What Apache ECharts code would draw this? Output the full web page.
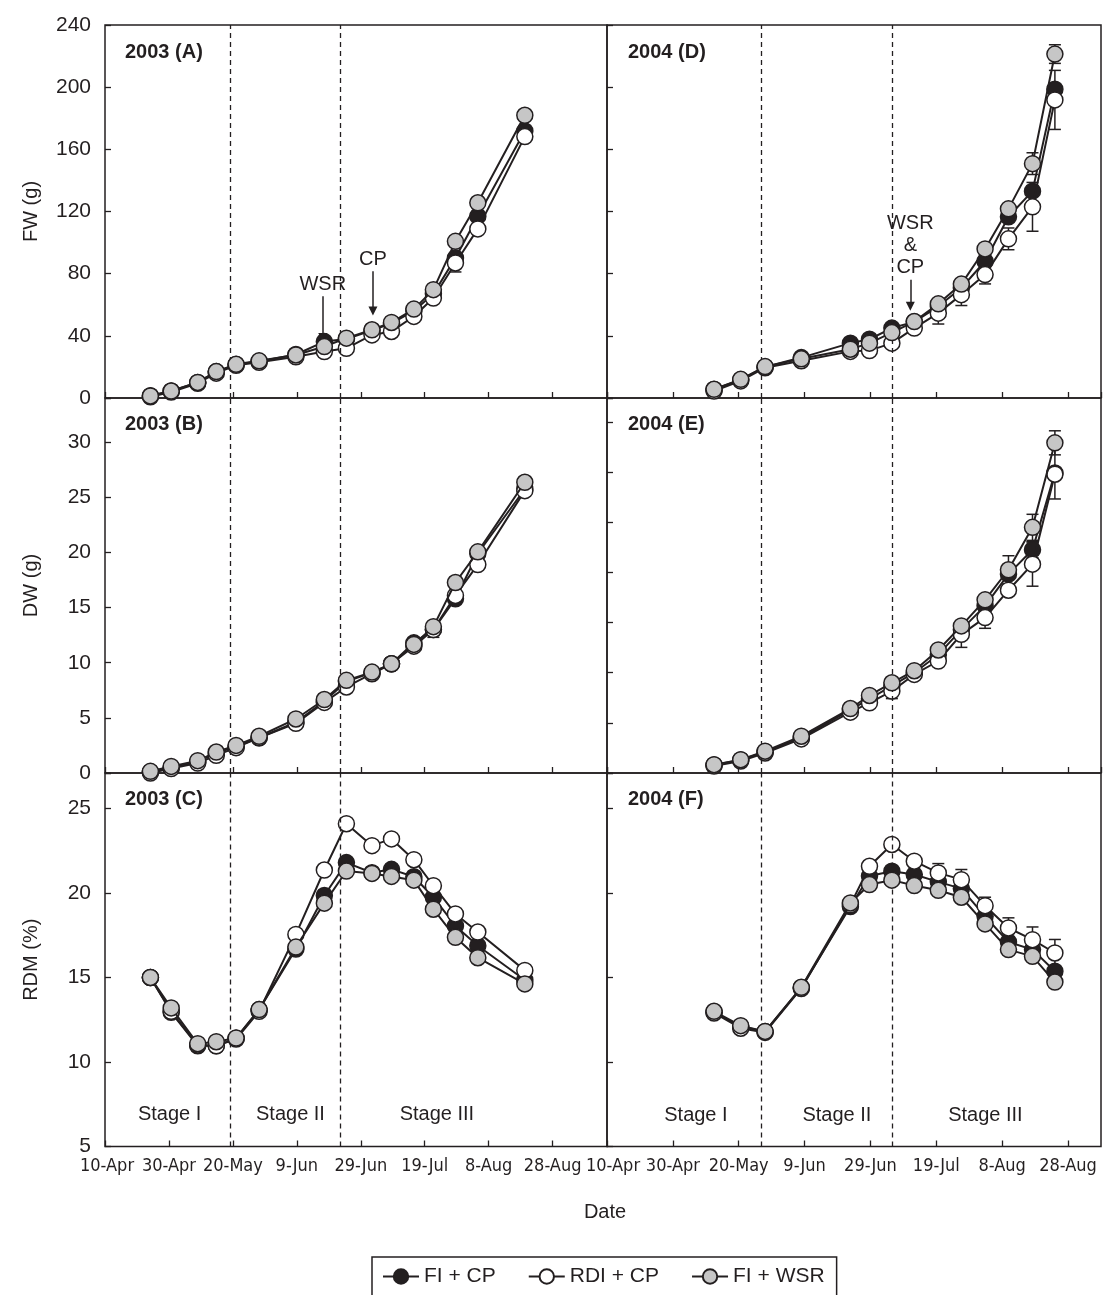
<!DOCTYPE html>
<html>
<head>
<meta charset="utf-8">
<script src="https://cdn.jsdelivr.net/npm/echarts@6/dist/echarts.min.js"></script>
<style>
html,body{margin:0;padding:0;background:#fff}
#F{width:1103px;height:1295px}
</style>
</head>
<body>
<div id="F"></div>
<script>
// x values are days counted from 10-Apr
var days03 = [14.2, 20.7, 29, 34.8, 41, 48.2, 59.7, 68.6, 75.5, 83.5, 89.6, 96.6, 102.7, 109.6, 116.6, 131.3];
var days04 = [32.5, 40.6, 48, 59, 73.9, 79.7, 86.5, 93.3, 100.6, 107.6, 114.8, 121.9, 129.2, 136];
var xTickLabels = ['10-Apr', '30-Apr', '20-May', '9-Jun', '29-Jun', '19-Jul', '8-Aug', '28-Aug'];
var treatments = ['FI + CP', 'RDI + CP', 'FI + WSR'];
var stages03 = [39.3, 73.5];
var stages04 = [46.8, 86.6];
var stageNames = ['Stage I', 'Stage II', 'Stage III'];

// 2003 fresh weight (g)
var fw03Black = [1.5, 4.5, 10, 17, 21.5, 23.5, 28, 36.3, 38, 43.5, 48, 56, 67, 90.1, 117, 171.8];
var fw03White = [0.8, 3.8, 9.5, 16, 21, 23, 26.5, 29.9, 32, 40.6, 42.8, 52.5, 64.3, 86.9, 108.8, 168.2];
var fw03Grey  = [1.3, 4.5, 10, 17, 21.7, 23.9, 27.7, 33.1, 38.5, 43.9, 48.6, 57.2, 69.7, 100.8, 125.6, 181.9];
// 2003 dry weight (g)
var dw03Black = [0.1, 0.5, 1.0, 1.8, 2.4, 3.2, 4.6, 6.5, 8.3, 9.1, 9.9, 11.8, 13.0, 15.8, 19.9, 25.75];
var dw03White = [0.0, 0.4, 0.9, 1.6, 2.3, 3.2, 4.5, 6.4, 7.8, 9.0, 9.9, 11.5, 13.0, 16.1, 18.9, 25.6];
var dw03Grey  = [0.15, 0.6, 1.12, 1.9, 2.5, 3.33, 4.9, 6.66, 8.4, 9.15, 9.9, 11.66, 13.27, 17.27, 20.05, 26.36];
// 2003 relative dry matter (%)
var rdm03Black = [15.0, 12.94, 10.96, 10.96, 11.4, 13.1, 16.68, 19.85, 21.8, 21.2, 21.4, 20.96, 19.75, 18.05, 16.88, 14.85];
var rdm03White = [15.0, 13.0, 11.0, 10.96, 11.36, 13.0, 17.55, 21.36, 24.1, 22.8, 23.2, 21.97, 20.43, 18.76, 17.69, 15.42];
var rdm03Grey  = [15.0, 13.2, 11.08, 11.2, 11.42, 13.1, 16.8, 19.4, 21.3, 21.16, 20.98, 20.76, 19.04, 17.38, 16.17, 14.62];

// 2004 fresh weight (g)
var fw04Black = [5.5, 11.8, 20, 26, 35.3, 37.8, 45, 49, 59, 70.8, 88, 116.6, 133.1, 198.7];
var fw04White = [4.5, 11, 19.5, 24, 30, 30.5, 35.3, 45, 54.6, 66.5, 79.4, 102.4, 123, 191.8];
var fw04Grey  = [5.6, 12, 20.2, 25.2, 31.4, 35.3, 42.1, 49.2, 60.6, 73.3, 95.9, 121.7, 150.8, 221.3];
// 2004 dry weight (g)
var dw04Black = [0.8, 1.3, 2.1, 3.5, 6.3, 7.4, 8.7, 10.0, 11.8, 14.3, 16.67, 19.83, 22.27, 29.93];
var dw04White = [0.7, 1.2, 2.0, 3.4, 6.07, 7.0, 8.17, 9.83, 11.17, 13.83, 15.5, 18.23, 20.83, 29.8];
var dw04Grey  = [0.83, 1.33, 2.17, 3.67, 6.43, 7.73, 9.0, 10.2, 12.27, 14.67, 17.27, 20.27, 24.5, 32.93];
// 2004 relative dry matter (%)
var rdm04Black = [12.95, 12.1, 11.8, 14.4, 19.2, 21.0, 21.29, 21.09, 20.66, 20.26, 18.62, 17.1, 16.65, 15.37];
var rdm04White = [12.9, 12.0, 11.75, 14.35, 19.3, 21.58, 22.87, 21.88, 21.19, 20.79, 19.25, 17.93, 17.24, 16.45];
var rdm04Grey  = [13.0, 12.15, 11.81, 14.42, 19.41, 20.5, 20.76, 20.44, 20.16, 19.75, 18.17, 16.65, 16.25, 14.73];

// error bars (0 = none drawn)
var fw03BlackErr = [0,0,0,0,0,0,0,0,0,0,0,0,0,0,0,3];
var fw03WhiteErr = [0,0,0,0,0,0,0,0,0,0,0,0,0,5.8,0,0];
var dw03BlackErr = [0,0,0,0,0,0,0,0,0,0,0,0,0.7,0,0,0];
var fw04WhiteErr = [0,0,0,0,0,0,0,0,7,7,6,7,15.7,19];
var fw04GreyErr  = [0,0,0,0,0,0,0,0,0,0,0,0,7,6];
var dw04BlackErr = [0,0,0,0,0,0,0,0,0,0,0,0,0.8,2.6];
var dw04WhiteErr = [0,0,0,0,0,0,0.75,0,0,1.3,1.07,0,2.2,0];
var dw04GreyErr  = [0,0,0,0,0,0,0,0,0,0,0,1.4,1.3,1.2];
var rdm04WhiteErr = [0,0,0,0,0,0,0,0,0.55,0.6,0.5,0.6,0.75,0.8];

var ink = '#231f20';
var fills = [ink, '#ffffff', '#c6c6c6'];
var font = 'Liberation Sans, Arial, Helvetica, sans-serif';
var narrow = 'DejaVu Sans Condensed, Liberation Sans, sans-serif';

var panels = [
    {grid: {left: 105, top: 25, width: 502, height: 373}, xmax: 157, ymin: 0, ymax: 240, step: 40, days: days03,
     vals: [fw03Black, fw03White, fw03Grey], errs: [fw03BlackErr, fw03WhiteErr, null], stages: stages03,
     title: '2003 (A)', yname: 'FW (g)', left: true, bottom: false},
    {grid: {left: 607, top: 25, width: 494, height: 373}, xmax: 150, ymin: 0, ymax: 240, step: 40, days: days04,
     vals: [fw04Black, fw04White, fw04Grey], errs: [null, fw04WhiteErr, fw04GreyErr], stages: stages04,
     title: '2004 (D)', left: false, bottom: false},
    {grid: {left: 105, top: 398, width: 502, height: 375}, xmax: 157, ymin: 0, ymax: 34, step: 5, days: days03,
     vals: [dw03Black, dw03White, dw03Grey], errs: [dw03BlackErr, null, null], stages: stages03,
     title: '2003 (B)', yname: 'DW (g)', left: true, bottom: false},
    {grid: {left: 607, top: 398, width: 494, height: 375}, xmax: 150, ymin: 0, ymax: 37.4, step: 5, days: days04,
     vals: [dw04Black, dw04White, dw04Grey], errs: [dw04BlackErr, dw04WhiteErr, dw04GreyErr], stages: stages04,
     title: '2004 (E)', left: false, bottom: false},
    {grid: {left: 105, top: 773, width: 502, height: 373.5}, xmax: 157, ymin: 5, ymax: 27.1, step: 5, days: days03,
     vals: [rdm03Black, rdm03White, rdm03Grey], errs: [null, null, null], stages: stages03,
     title: '2003 (C)', yname: 'RDM (%)', left: true, bottom: true, stagePos: [[20.2, 6.9], [58, 6.9], [103.8, 6.9]]},
    {grid: {left: 607, top: 773, width: 494, height: 373.5}, xmax: 150, ymin: 5, ymax: 27.1, step: 5, days: days04,
     vals: [rdm04Black, rdm04White, rdm04Grey], errs: [null, rdm04WhiteErr, null], stages: stages04,
     title: '2004 (F)', left: false, bottom: true, stagePos: [[27, 6.85], [69.8, 6.85], [114.9, 6.85]]}
];

var grids = [], xAxes = [], yAxes = [], series = [], titles = [];

function errSeries(p, days, vals, errs) {
    var d = [];
    for (var i = 0; i < days.length; i++) {
        if (errs[i] > 0) d.push([days[i], vals[i], errs[i]]);
    }
    return {
        type: 'custom', name: 'err', xAxisIndex: p, yAxisIndex: p, z: 1, silent: true, data: d,
        encode: {x: 0, y: 1},
        renderItem: function (params, api) {
            var x = api.value(0), y = api.value(1), e = api.value(2);
            var hi = api.coord([x, y + e]), lo = api.coord([x, y - e]);
            var w = 6, st = {stroke: ink, lineWidth: 1.5};
            return {type: 'group', children: [
                {type: 'line', shape: {x1: hi[0], y1: hi[1], x2: lo[0], y2: lo[1]}, style: st},
                {type: 'line', shape: {x1: hi[0] - w, y1: hi[1], x2: hi[0] + w, y2: hi[1]}, style: st},
                {type: 'line', shape: {x1: lo[0] - w, y1: lo[1], x2: lo[0] + w, y2: lo[1]}, style: st}
            ]};
        }
    };
}

panels.forEach(function (pn, p) {
    grids.push(Object.assign({show: true, borderColor: ink, borderWidth: 1.5, backgroundColor: 'transparent'}, pn.grid));
    xAxes.push({
        type: 'value', gridIndex: p, min: 0, max: pn.xmax, interval: 20,
        axisLine: {show: false}, splitLine: {show: false},
        axisTick: {show: true, inside: true, length: 6, lineStyle: {color: ink, width: 1.3}},
        axisLabel: {
            show: pn.bottom, margin: 11, color: ink, fontSize: 18, fontFamily: narrow,
            showMinLabel: true, showMaxLabel: false, hideOverlap: false,
            formatter: function (v) {
                if (v % 20 !== 0) return '';
                return v === 0 ? '{first|' + xTickLabels[0] + '}' : xTickLabels[v / 20];
            },
            rich: {first: {fontSize: 18, fontFamily: narrow, color: ink, padding: [0, 0, 0, pn.left ? 4 : 12]}}
        }
    });
    yAxes.push({
        type: 'value', gridIndex: p, min: pn.ymin, max: pn.ymax, interval: pn.step,
        name: pn.yname || '', nameLocation: 'middle', nameGap: 64, nameRotate: 90,
        nameTextStyle: {color: ink, fontSize: 20, fontFamily: font},
        axisLine: {show: false}, splitLine: {show: false},
        axisTick: {show: true, inside: true, length: 6, lineStyle: {color: ink, width: 1.3}},
        axisLabel: {
            show: pn.left, margin: 14, color: ink, fontSize: 21, fontFamily: font,
            formatter: function (v) { return v % pn.step === 0 ? String(v) : ''; }
        }
    });
    titles.push({
        text: pn.title, left: pn.left ? 125 : 628, top: pn.grid.top + (p < 2 ? 17 : 16), padding: 0,
        textStyle: {color: ink, fontSize: 20, fontWeight: 'bold', fontFamily: font}
    });
    treatments.forEach(function (t, k) {
        var s = {
            type: 'line', name: t, xAxisIndex: p, yAxisIndex: p, z: 3 + k,
            data: pn.days.map(function (d, i) { return [d, pn.vals[k][i]]; }),
            symbol: 'circle', symbolSize: 16, showAllSymbol: true,
            lineStyle: {color: ink, width: 2},
            itemStyle: {color: fills[k], borderColor: ink, borderWidth: 1.5},
            emphasis: {disabled: true}
        };
        if (k === 0) {
            s.markLine = {
                silent: true, symbol: ['none', 'none'], label: {show: false},
                lineStyle: {color: ink, type: [5, 4], width: 1.3},
                data: pn.stages.map(function (v) { return {xAxis: v}; })
            };
        }
        if (k === 1 && pn.stagePos) {
            s.markPoint = {
                silent: true, symbol: 'circle', symbolSize: 1, itemStyle: {color: 'rgba(0,0,0,0)'},
                label: {show: true, position: 'inside', formatter: '{b}', color: ink, fontSize: 20, fontFamily: font},
                data: pn.stagePos.map(function (c, i) { return {coord: c, name: stageNames[i]}; })
            };
        }
        series.push(s);
        if (pn.errs[k]) series.push(errSeries(p, pn.days, pn.vals[k], pn.errs[k]));
    });
});

// arrows marking WSR / CP start
var arrowStyle = {
    silent: true, symbol: ['none', 'triangle'], symbolSize: 9,
    lineStyle: {color: ink, type: 'solid', width: 1.5},
    label: {show: true, position: 'start', formatter: '{b}', color: ink, fontSize: 20, fontFamily: font, distance: 1, lineHeight: 22, align: 'center'}
};
series[2].markLine = Object.assign({}, arrowStyle, {data: [
    [{coord: [68.1, 65.4], name: 'WSR'}, {coord: [68.1, 39]}],
    [{coord: [83.8, 81.5], name: 'CP'}, {coord: [83.8, 56]}]
]});
var dIdx = series.findIndex(function (s) { return s.xAxisIndex === 1 && s.name === 'FI + WSR'; });
series[dIdx].markLine = Object.assign({}, arrowStyle, {data: [
    [{coord: [92.1, 76.1], name: 'WSR\n&\nCP'}, {coord: [92.1, 59]}]
]});

titles.push({text: 'Date', left: 605, top: 1202, textAlign: 'center', padding: 0,
    textStyle: {color: ink, fontSize: 20, fontWeight: 'normal', fontFamily: font}});

var option = {
    animation: false,
    backgroundColor: '#ffffff',
    title: titles,
    legend: {
        data: treatments, left: 372, top: 1257, orient: 'horizontal',
        borderColor: ink, borderWidth: 1.5, padding: [9, 12, 14, 10],
        itemWidth: 36, itemHeight: 18, itemGap: 32,
        textStyle: {color: ink, fontSize: 21, fontFamily: font}
    },
    grid: grids,
    xAxis: xAxes,
    yAxis: yAxes,
    series: series
};

var myChart = echarts.init(document.getElementById('F'));
myChart.setOption(option);
</script>
</body>
</html>
